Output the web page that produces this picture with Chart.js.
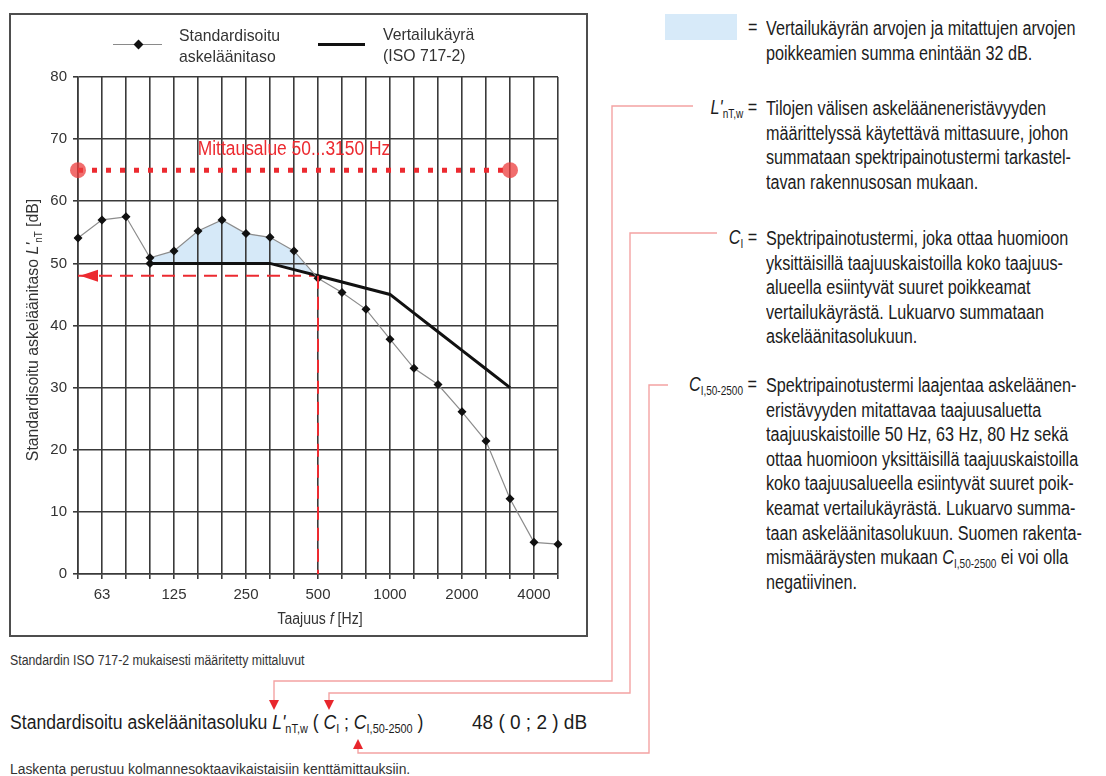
<!DOCTYPE html>
<html>
<head>
<meta charset="utf-8">
<script src="https://cdn.jsdelivr.net/npm/chart.js"></script>
<style>
  body { margin: 0; background: #fff; }
  #page { position: relative; width: 1106px; height: 776px; overflow: hidden;
          font-family: 'Liberation Sans', Arial, sans-serif; color: #1c1c1c; }
  .abs { position: absolute; white-space: nowrap; }
  .nl { transform-origin: 0 50%; }
  #frame { position: absolute; left: 9px; top: 13px; width: 579px; height: 624px;
           border: 2px solid #4e4e4e; box-sizing: border-box; }
  #chartBox { position: absolute; left: 0; top: 0; width: 600px; height: 650px; }
  .txt { font-size: 19.5px; line-height: 24.6px; transform: scaleX(0.83); transform-origin: 0 0; }
  .eq { font-size: 19.5px; transform: scaleX(0.83); transform-origin: 100% 0; text-align: right; right: 349px; }
  .leg { font-size: 17px; line-height: 21px; color: #333; transform: scaleX(0.93); transform-origin: 0 0; }
  sub { font-size: 0.62em; vertical-align: -0.35em; line-height: 0; }
</style>
</head>
<body>
<div id="page">
  <div id="frame"></div>
  <div id="chartBox"><canvas id="noiseChart"></canvas></div>

  <!-- legend -->
  <div class="abs" style="left:113px;top:44px;width:49px;height:1px;background:#8a8a8a"></div>
  <div class="abs" style="left:135px;top:41px;width:7px;height:7px;background:#111;transform:rotate(45deg)"></div>
  <div class="abs leg" style="left:179px;top:25px">Standardisoitu<br>askeläänitaso</div>
  <div class="abs" style="left:318px;top:43px;width:47px;height:3px;background:#111"></div>
  <div class="abs leg" style="left:383px;top:24px">Vertailukäyrä<br>(ISO 717-2)</div>

  <!-- axis titles -->
  <div class="abs" style="left:320px;top:619px;transform:translate(-50%,-50%) scaleX(0.88);font-size:16px;color:#333">Taajuus <i>f</i> [Hz]</div>
  <div class="abs" style="left:33px;top:330px;transform:translate(-50%,-50%) rotate(-90deg) scaleX(0.93);font-size:17px;color:#333">Standardisoitu askeläänitaso <i>L'</i><sub>nT</sub> [dB]</div>

  <!-- right panel -->
  <div class="abs" style="left:665px;top:14px;width:72px;height:26px;background:#d7eaf9"></div>
  <div class="abs eq" style="top:16px">=</div>
  <div class="abs txt" style="left:766px;top:16px">Vertailukäyrän arvojen ja mitattujen arvojen<br>poikkeamien summa enintään 32 dB.</div>

  <div class="abs eq" style="top:96px"><i>L'</i><sub>nT,w</sub> =</div>
  <div class="abs txt" style="left:766px;top:96px">Tilojen välisen askelääneneristävyyden<br>määrittelyssä käytettävä mittasuure, johon<br>summataan spektripainotustermi tarkastel-<br>tavan rakennusosan mukaan.</div>

  <div class="abs eq" style="top:226px"><i>C</i><sub>I</sub> =</div>
  <div class="abs txt" style="left:766px;top:226px">Spektripainotustermi, joka ottaa huomioon<br>yksittäisillä taajuuskaistoilla koko taajuus-<br>alueella esiintyvät suuret poikkeamat<br>vertailukäyrästä. Lukuarvo summataan<br>askeläänitasolukuun.</div>

  <div class="abs eq" style="top:373px"><i>C</i><sub>I,50-2500</sub> =</div>
  <div class="abs txt" style="left:766px;top:373px">Spektripainotustermi laajentaa askeläänen-<br>eristävyyden mitattavaa taajuusaluetta<br>taajuuskaistoille 50 Hz, 63 Hz, 80 Hz sekä<br>ottaa huomioon yksittäisillä taajuuskaistoilla<br>koko taajuusalueella esiintyvät suuret poik-<br>keamat vertailukäyrästä. Lukuarvo summa-<br>taan askeläänitasolukuun. Suomen rakenta-<br>mismääräysten mukaan <i>C</i><sub>I,50-2500</sub> ei voi olla<br>negatiivinen.</div>

  <!-- bottom -->
  <div class="abs nl" style="left:10px;top:652px;font-size:14px;color:#333;transform:scaleX(0.88)">Standardin ISO 717-2 mukaisesti määritetty mittaluvut</div>
  <div class="abs nl" style="left:10px;top:711px;font-size:20px;transform:scaleX(0.88)">Standardisoitu askeläänitasoluku <i>L'</i><sub>nT,w</sub> ( <i>C</i><sub>I</sub> ; <i>C</i><sub>I,50-2500</sub> )</div>
  <div class="abs nl" style="left:472px;top:711px;font-size:20px;transform:scaleX(0.95)">48 ( 0 ; 2 ) dB</div>
  <div class="abs nl" style="left:10px;top:760px;font-size:15.5px;color:#333;transform:scaleX(0.895)">Laskenta perustuu kolmannesoktaavikaistaisiin kenttämittauksiin.</div>

  <svg class="abs" style="left:0;top:0" width="1106" height="776">
    <g fill="none" stroke="#f4a3a3" stroke-width="1.4">
      <polyline points="693,106 612,106 612,681 274,681 274,701"/>
      <polyline points="717,233 630,233 630,693 329,693 329,701"/>
      <polyline points="668,385 649,385 649,753 358,753 358,749"/>
    </g>
    <g fill="#e8262c">
      <polygon points="269,700 279,700 274,710"/>
      <polygon points="324,700 334,700 329,710"/>
      <polygon points="353,749 363,749 358,739"/>
    </g>
  </svg>
</div>

<script>
const freqs = ['50', '63', '80', '100', '125', '160', '200', '250', '315', '400', '500',
               '630', '800', '1000', '1250', '1600', '2000', '2500', '3150', '4000', '5000'];
const shownFreqs = ['63', '125', '250', '500', '1000', '2000', '4000'];

// standardisoitu askeläänitaso L'nT (dB)
const measured = [54.1, 57.0, 57.5, 50.9, 52.0, 55.2, 57.0, 54.8, 54.2, 52.0, 47.6,
                  45.3, 42.6, 37.8, 33.1, 30.5, 26.1, 21.4, 12.1, 5.1, 4.8];
// vertailukäyrä ISO 717-2, siirretty
const reference = [null, null, null, 50, 50, 50, 50, 50, 50, 49, 48,
                   47, 46, 45, 42, 39, 36, 33, 30, null, null];
// mittausalue 50...3150 Hz
const rangeLine = [65, null, null, null, null, null, null, null, null, null, null,
                   null, null, null, null, null, null, null, 65, null, null];
// L'nT,w luku
const ratingLine = [48, null, null, null, null, null, null, null, null, null, 48,
                    null, null, null, null, null, null, null, null, null, null];
const ratingValue = 48;
const ratingFreq = '500';

const red = '#ec2a30';
const font = "'Liberation Sans', Arial, sans-serif";

// shaded area only where the reference curve exists
const deviation = measured.map((v, i) => reference[i] === null ? null : v);

const annotations = {
  id: 'annotations',
  afterDatasetsDraw(chart) {
    const ctx = chart.ctx;
    const x = chart.scales.x, y = chart.scales.y;
    const xr = x.getPixelForValue(freqs.indexOf(ratingFreq));
    ctx.save();
    // vertical dashed line at 500 Hz
    ctx.strokeStyle = red;
    ctx.lineWidth = 2;
    ctx.setLineDash([13, 8]);
    ctx.beginPath();
    ctx.moveTo(xr, y.getPixelForValue(ratingValue));
    ctx.lineTo(xr, y.getPixelForValue(0));
    ctx.stroke();
    // arrow head
    const x0 = x.getPixelForValue(0) + 2;
    const yr = y.getPixelForValue(ratingValue);
    ctx.setLineDash([]);
    ctx.fillStyle = red;
    ctx.beginPath();
    ctx.moveTo(x0, yr);
    ctx.lineTo(x0 + 18, yr - 6);
    ctx.lineTo(x0 + 18, yr + 6);
    ctx.closePath();
    ctx.fill();
    // range label
    const xa = x.getPixelForValue(rangeLine.indexOf(65));
    const xb = x.getPixelForValue(rangeLine.lastIndexOf(65));
    ctx.translate((xa + xb) / 2, y.getPixelForValue(68.3));
    ctx.scale(0.87, 1);
    ctx.font = '20px ' + font;
    ctx.textAlign = 'center';
    ctx.textBaseline = 'middle';
    ctx.fillText('Mittausalue 50...3150 Hz', 0, 0);
    ctx.restore();
  }
};

Chart.defaults.font.family = font;

new Chart(document.getElementById('noiseChart'), {
  type: 'line',
  data: {
    labels: freqs,
    datasets: [{
      label: 'Standardisoitu askeläänitaso',
      data: measured,
      borderColor: '#8c8c8c',
      borderWidth: 1.2,
      pointStyle: 'rectRot',
      pointRadius: 4.5,
      pointBackgroundColor: '#111',
      pointBorderWidth: 0,
      order: 0
    }, {
      label: 'Vertailukäyrä (ISO 717-2)',
      data: reference,
      borderColor: '#111',
      borderWidth: 3,
      pointStyle: 'rectRot',
      pointRadius: reference.map((v, i) => i === 3 ? 4.5 : 0),
      pointBackgroundColor: '#111',
      pointBorderWidth: 0,
      order: 1
    }, {
      label: 'Poikkeamat',
      data: deviation,
      borderWidth: 0,
      pointRadius: 0,
      fill: { target: 1, above: '#d6e9f8', below: 'rgba(0,0,0,0)' },
      order: 4
    }, {
      label: 'Mittausalue',
      data: rangeLine,
      spanGaps: true,
      borderColor: red,
      borderWidth: 5,
      borderDash: [5, 9],
      borderCapStyle: 'butt',
      pointRadius: 8,
      pointBackgroundColor: 'rgba(236, 60, 60, 0.75)',
      pointBorderWidth: 0,
      order: 2
    }, {
      label: 'Luku',
      data: ratingLine,
      spanGaps: true,
      borderColor: red,
      borderWidth: 2,
      borderDash: [13, 8],
      pointRadius: 0,
      order: 2
    }]
  },
  options: {
    responsive: true,
    maintainAspectRatio: false,
    animation: false,
    layout: { padding: { top: 77, right: 42, bottom: 0, left: 0 } },
    plugins: {
      legend: { display: false },
      tooltip: { enabled: false },
      filler: { drawTime: 'beforeDraw' }
    },
    scales: {
      x: {
        offset: false,
        grid: { color: '#3a3a3a', lineWidth: 1.6, tickLength: 5 },
        border: { color: '#3a3a3a', width: 1.6 },
        ticks: {
          autoSkip: false,
          maxRotation: 0,
          padding: 7,
          color: '#333',
          font: { size: 15 },
          callback: (v, i) => shownFreqs.includes(freqs[i]) ? freqs[i] : ''
        },
        afterFit: s => { s.height = 76; }
      },
      y: {
        min: 0,
        max: 80,
        grid: { color: '#3a3a3a', lineWidth: 1.6, tickLength: 5 },
        border: { color: '#3a3a3a', width: 1.6 },
        ticks: { stepSize: 10, padding: 6, color: '#333', font: { size: 15 } },
        afterFit: s => { s.width = 78; }
      }
    }
  },
  plugins: [annotations]
});
</script>
</body>
</html>
